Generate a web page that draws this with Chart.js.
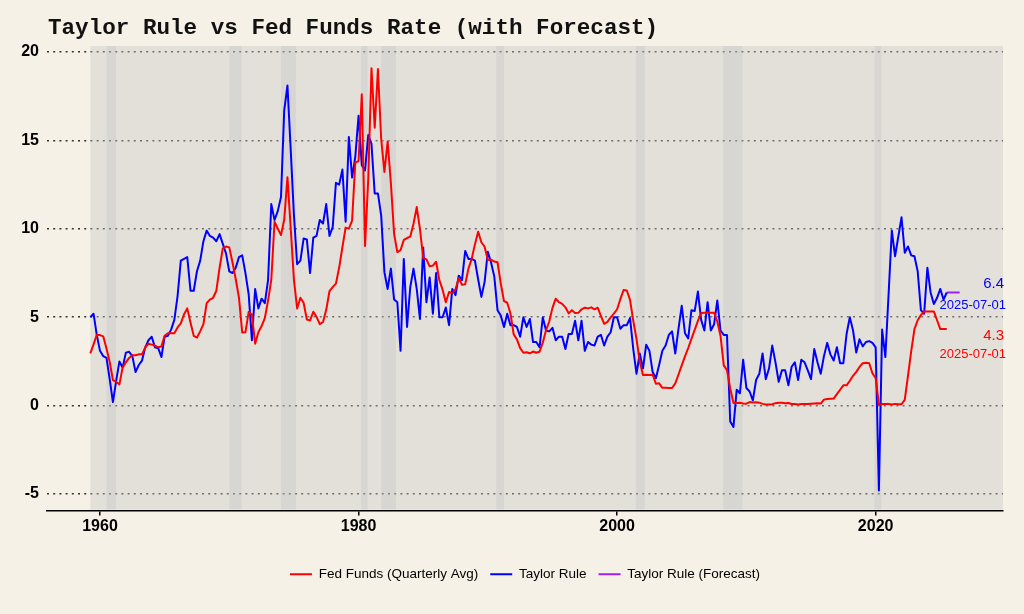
<!DOCTYPE html>
<html>
<head>
<meta charset="utf-8">
<script src="https://cdn.jsdelivr.net/npm/chart.js@4.4.1/dist/chart.umd.min.js"></script>
<style>
  html, body { margin: 0; padding: 0; background: #f6f1e7; }
  #wrap { width: 1024px; height: 614px; }
</style>
</head>
<body>
<div id="wrap"><canvas id="grafico"></canvas></div>
<script>
// quarterly observations, first one is 1959-04-01
const START_YEAR = 1959.25;
const LAST_DATE = '2025-07-01';

const fedFunds = [
  2.96, 3.47, 4.00,               // 1959
  3.99, 3.92, 3.23, 2.47,         // 1960
  1.45, 1.35, 1.20, 2.15,
  2.45, 2.70, 2.85, 2.85,
  2.90, 2.90, 3.30, 3.50,
  3.45, 3.40, 3.30, 3.35,
  3.95, 4.10, 4.10, 4.10,         // 1965
  4.42, 4.65, 5.17, 5.50,
  4.70, 3.95, 3.85, 4.20,
  4.61, 5.80, 6.00, 6.10,
  6.50, 7.80, 8.90, 9.00,
  8.95, 8.10, 7.15, 6.10,         // 1970
  4.14, 4.15, 5.30, 5.15,
  3.50, 4.15, 4.50, 4.95,
  5.94, 7.12, 10.40, 10.01,
  9.65, 10.51, 12.92, 10.06,
  7.13, 5.49, 6.10, 5.82,         // 1975
  4.87, 4.82, 5.31, 5.02,
  4.61, 4.73, 5.42, 6.47,
  6.70, 6.90, 7.81, 8.96,
  10.07, 10.01, 10.47, 13.77,
  13.82, 17.61, 9.03, 12.81,      // 1980
  19.08, 15.72, 19.04, 15.08,
  13.22, 14.94, 12.59, 9.71,
  8.68, 8.80, 9.37, 9.48,
  9.56, 10.29, 11.23, 9.99,
  8.35, 8.27, 7.88, 7.92,         // 1985
  8.14, 7.10, 6.56, 5.85,
  6.43, 6.36, 6.58, 7.22,
  6.83, 6.87, 7.75, 8.30,
  9.12, 9.84, 9.24, 8.99,
  8.23, 8.26, 8.15, 8.11,         // 1990
  6.91, 5.91, 5.82, 5.21,
  4.03, 3.75, 3.25, 2.99,
  3.02, 2.96, 3.06, 2.99,
  3.05, 3.56, 4.26, 4.76,
  5.53, 6.05, 5.85, 5.76,         // 1995
  5.56, 5.22, 5.40, 5.24,
  5.25, 5.45, 5.54, 5.50,
  5.56, 5.45, 5.54, 5.07,
  4.63, 4.74, 4.99, 5.20,
  5.45, 6.02, 6.54, 6.51,         // 2000
  5.98, 4.80, 3.77, 2.49,
  1.73, 1.75, 1.73, 1.75,
  1.24, 1.26, 1.01, 1.01,
  1.00, 1.00, 1.26, 1.76,
  2.28, 2.79, 3.26, 3.78,         // 2005
  4.29, 4.79, 5.24, 5.25,
  5.25, 5.25, 5.26, 4.76,
  3.94, 2.28, 2.01, 0.97,
  0.15, 0.15, 0.16, 0.12,
  0.11, 0.20, 0.18, 0.19,         // 2010
  0.17, 0.10, 0.07, 0.07,
  0.08, 0.14, 0.16, 0.16,
  0.14, 0.15, 0.09, 0.09,
  0.07, 0.09, 0.09, 0.09,
  0.11, 0.12, 0.13, 0.12,         // 2015
  0.34, 0.37, 0.39, 0.40,
  0.65, 0.90, 1.15, 1.15,
  1.41, 1.69, 1.91, 2.19,
  2.40, 2.42, 2.40, 1.83,
  1.55, 0.05, 0.09, 0.09,         // 2020
  0.09, 0.07, 0.10, 0.08,
  0.08, 0.33, 1.68, 3.08,
  4.33, 4.83, 5.12, 5.33,
  5.33, 5.33, 5.33, 4.83,
  4.33, 4.33, 4.33                // 2025
];

const taylorRule = [
  5.0, 5.2, 4.0,                  // 1959
  3.1, 2.8, 2.7, 1.5,             // 1960
  0.2, 1.4, 2.5, 2.15,
  3.0, 3.05, 2.8, 1.9,
  2.3, 2.55, 3.3, 3.7,
  3.9, 3.3, 3.25, 2.75,
  3.9, 3.95, 4.3, 4.85,           // 1965
  6.2, 8.2, 8.3, 8.4,
  6.5, 6.5, 7.6, 8.2,
  9.3, 9.9, 9.6, 9.5,
  9.3, 9.7, 9.15, 8.6,
  7.6, 7.5, 7.8, 8.4,             // 1970
  8.5, 7.5, 6.3, 3.7,
  6.6, 5.5, 6.05, 5.8,
  7.1, 11.4, 10.5, 11.0,
  11.8, 16.7, 18.1, 14.5,
  10.8, 8.0, 8.2, 9.45,           // 1975
  9.4, 7.5, 9.5, 9.6,
  10.5, 10.3, 11.4, 9.6,
  10.1, 12.6, 12.5, 13.35,
  10.4, 15.2, 12.9, 14.1,
  16.4, 13.6, 13.3, 15.3,         // 1980
  14.8, 12.0, 12.0, 10.75,
  7.55, 6.6, 7.75, 6.0,
  5.85, 3.1, 8.3, 4.45,
  6.7, 7.75, 6.6, 4.9,
  8.95, 5.85, 7.25, 5.2,          // 1985
  7.5, 5.0, 5.0, 5.55,
  4.55, 6.6, 6.25, 7.35,
  7.1, 8.75, 8.3, 8.3,
  8.2, 7.15, 6.15, 7.0,
  8.7, 8.1, 7.3, 5.4,             // 1990
  5.1, 4.45, 5.2, 4.55,
  4.55, 4.45, 3.9, 5.0,
  4.45, 4.9, 3.6, 3.6,
  3.3, 5.0, 4.25, 4.2,
  4.4, 3.7, 3.9, 3.9,             // 1995
  3.2, 4.05, 4.05, 4.8,
  3.7, 4.8, 3.1, 3.6,
  3.45, 3.4, 3.9, 4.0,
  3.4, 3.9, 4.15, 5.0,
  5.0, 4.35, 4.55, 4.55,          // 2000
  4.95, 3.2, 1.8, 2.95,
  2.1, 3.45, 3.1, 1.9,
  1.55, 2.3, 3.1, 3.4,
  4.0, 4.2, 2.95, 4.35,
  5.65, 4.1, 3.8, 5.4,            // 2005
  5.35, 6.45, 4.85, 4.25,
  5.85, 4.25, 4.6, 5.95,
  4.25, 4.0, 4.0, -0.9,
  -1.2, 0.9, 0.7, 2.6,
  1.0, 0.8, 0.3, 1.45,            // 2010
  1.8, 2.95, 1.5, 2.1,
  3.4, 2.45, 1.35, 2.0,
  2.0, 1.15, 2.2, 2.45,
  1.45, 2.6, 2.45, 2.0,
  1.5, 3.2, 2.45, 1.8,            // 2015
  2.8, 3.55, 2.9, 2.55,
  3.3, 2.4, 2.4, 4.05,
  5.0, 4.25, 3.0, 3.75,
  3.35, 3.6, 3.65, 3.55,
  3.3, -4.8, 4.3, 2.75,           // 2020
  6.3, 9.9, 8.45, 9.55,
  10.65, 8.65, 9.0, 8.5,
  8.45, 7.6, 5.4, 5.2,
  7.8, 6.4, 5.75, 6.1,
  6.6, 6.0, 6.4                   // 2025
];

// forecast starts at the last observed quarter
const FORECAST_START = 2025.5;
const taylorForecast = [6.4, 6.4, 6.4, 6.4, 6.4];

// NBER recessions as shaded in the picture
const recessions = [
  [1960.5, 1961.25], [1970.0, 1970.95], [1974.0, 1975.15],
  [1980.2, 1980.7], [1981.75, 1982.9], [1990.65, 1991.25],
  [2001.45, 2002.15], [2008.2, 2009.7], [2019.9, 2020.45]
];

const xTicks = [1960, 1980, 2000, 2020];
const yTicks = [-5, 0, 5, 10, 15, 20];

function toPoints(values, start) {
  return values.map((v, i) => ({ x: start + i * 0.25, y: v }));
}

const SANS = '"Liberation Sans", Arial, Helvetica, sans-serif';

const panelPlugin = {
  id: 'panel',
  beforeDatasetsDraw(chart) {
    const { ctx, chartArea, scales } = chart;
    const left = scales.x.getPixelForValue(START_YEAR);
    ctx.save();
    ctx.fillStyle = 'rgba(200,200,198,0.40)';
    ctx.fillRect(left, chartArea.top, chartArea.right - left, chartArea.bottom - chartArea.top - 1);
    ctx.fillStyle = 'rgba(185,185,185,0.28)';
    recessions.forEach(r => {
      const a = scales.x.getPixelForValue(r[0]);
      const b = scales.x.getPixelForValue(r[1]);
      ctx.fillRect(a, chartArea.top, b - a, chartArea.bottom - chartArea.top - 1);
    });
    ctx.restore();
  }
};

const labelsPlugin = {
  id: 'endLabels',
  afterDatasetsDraw(chart) {
    const { ctx, chartArea, scales } = chart;
    const right = chartArea.right + 1;
    const lastT = taylorRule[taylorRule.length - 1];
    const lastF = fedFunds[fedFunds.length - 1];
    const yT = scales.y.getPixelForValue(lastT);
    const yF = scales.y.getPixelForValue(lastF);
    ctx.save();
    ctx.textAlign = 'right';
    ctx.textBaseline = 'middle';
    ctx.fillStyle = '#0000ff';
    ctx.font = '15px ' + SANS;
    ctx.fillText(lastT.toFixed(1), right, yT - 9);
    ctx.font = '13px ' + SANS;
    ctx.fillText(LAST_DATE, right + 2, yT + 13);
    ctx.fillStyle = '#ff0000';
    ctx.font = '15px ' + SANS;
    ctx.fillText(lastF.toFixed(1), right, yF + 7);
    ctx.font = '13px ' + SANS;
    ctx.fillText(LAST_DATE, right + 2, yF + 25);
    ctx.restore();
  }
};

const titlePlugin = {
  id: 'bigTitle',
  afterDraw(chart) {
    const ctx = chart.ctx;
    ctx.save();
    ctx.fillStyle = '#111';
    ctx.font = 'bold 22.6px "Courier New", "Liberation Mono", monospace';
    ctx.textBaseline = 'middle';
    ctx.textAlign = 'left';
    ctx.fillText('Taylor Rule vs Fed Funds Rate (with Forecast)', 48, 28);
    ctx.restore();
  }
};

const ctx = document.getElementById('grafico').getContext('2d');
new Chart(ctx, {
  type: 'line',
  data: {
    datasets: [
      {
        label: 'Fed Funds (Quarterly Avg)',
        data: toPoints(fedFunds, START_YEAR),
        borderColor: '#ff0000',
        backgroundColor: '#ff0000',
        borderWidth: 2,
        pointRadius: 0,
        pointStyle: 'line'
      },
      {
        label: 'Taylor Rule',
        data: toPoints(taylorRule, START_YEAR),
        borderColor: '#0000ff',
        backgroundColor: '#0000ff',
        borderWidth: 2,
        pointRadius: 0,
        pointStyle: 'line'
      },
      {
        label: 'Taylor Rule (Forecast)',
        data: toPoints(taylorForecast, FORECAST_START),
        borderColor: '#a020f0',
        backgroundColor: '#a020f0',
        borderWidth: 2,
        pointRadius: 0,
        pointStyle: 'line'
      }
    ]
  },
  options: {
    responsive: true,
    maintainAspectRatio: false,
    animation: false,
    layout: { padding: { top: 46, right: 21, bottom: 23, left: 0 } },
    elements: { line: { tension: 0, borderJoinStyle: 'round' } },
    scales: {
      x: {
        type: 'linear',
        min: 1955.9,
        max: 2029.85,
        afterBuildTicks: s => { s.ticks = xTicks.map(v => ({ value: v })); },
        afterFit: s => { s.height = 45; },
        ticks: {
          color: '#000',
          padding: 1,
          maxRotation: 0,
          font: { family: SANS, size: 16, weight: 'bold' },
          callback: v => String(v)
        },
        grid: { drawOnChartArea: false, drawTicks: true, tickLength: 5, color: '#000', lineWidth: 1.5 },
        border: { display: true, color: '#000', width: 1.5 }
      },
      y: {
        min: -5.93,
        max: 20.34,
        afterBuildTicks: s => { s.ticks = yTicks.map(v => ({ value: v })); },
        afterFit: s => { s.width = 47; },
        ticks: {
          color: '#000',
          padding: 8,
          font: { family: SANS, size: 16, weight: 'bold' },
          callback: v => String(v)
        },
        grid: { color: '#333', lineWidth: 1.5, drawTicks: false },
        border: { display: false, dash: [2, 4.2] }
      }
    },
    plugins: {
      legend: {
        position: 'bottom',
        fullSize: false,
        labels: {
          usePointStyle: true,
          pointStyleWidth: 22,
          boxHeight: 13,
          padding: 12,
          color: '#000',
          font: { family: SANS, size: 13.5 }
        }
      },
      tooltip: { enabled: false }
    }
  },
  plugins: [panelPlugin, labelsPlugin, titlePlugin]
});
</script>
</body>
</html>
